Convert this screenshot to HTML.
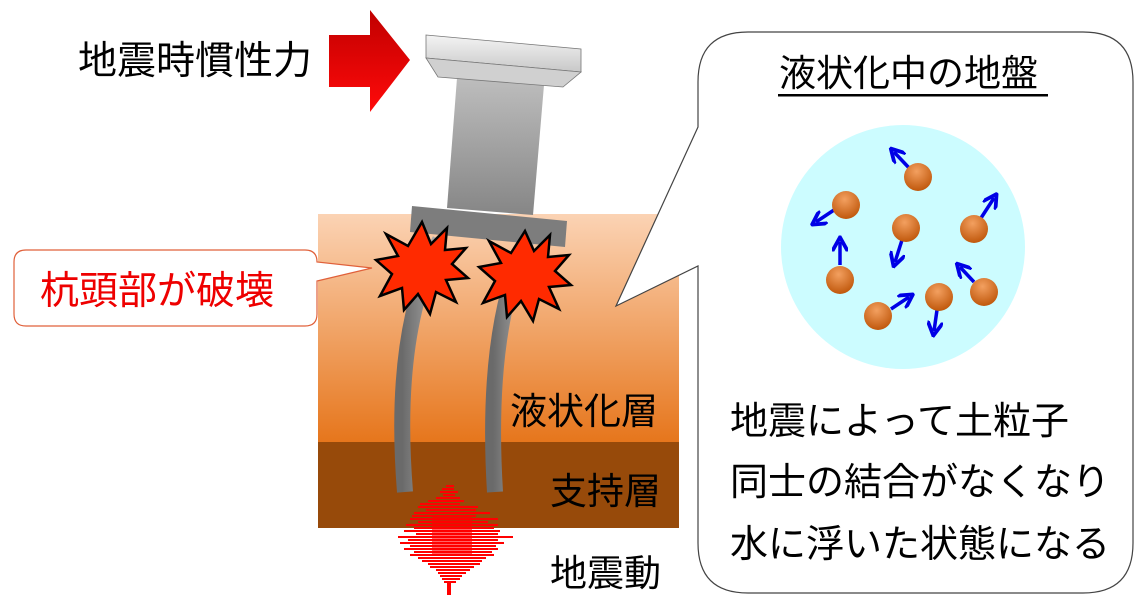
<!DOCTYPE html>
<html><head><meta charset="utf-8"><style>
html,body{margin:0;padding:0;background:#fff;}
svg{display:block;}
text{font-family:"Liberation Sans","Noto Sans CJK JP",sans-serif;}
</style></head><body>
<svg width="1141" height="603" viewBox="0 0 1141 603" xmlns="http://www.w3.org/2000/svg">
<defs>
<linearGradient id="soil" x1="0" y1="0" x2="0" y2="1"><stop offset="0" stop-color="#fbd3b4"/><stop offset="1" stop-color="#e6761c"/></linearGradient>
<linearGradient id="arr" x1="0" y1="0" x2="0" y2="1"><stop offset="0" stop-color="#c00000"/><stop offset="1" stop-color="#ff0a0a"/></linearGradient>
<linearGradient id="cap" x1="0" y1="0" x2="0" y2="1"><stop offset="0" stop-color="#f4f4f4"/><stop offset="1" stop-color="#c8c8c8"/></linearGradient>
<linearGradient id="col" x1="0" y1="0" x2="0" y2="1"><stop offset="0" stop-color="#bdbdbd"/><stop offset="1" stop-color="#868686"/></linearGradient>
<linearGradient id="pile" x1="0" y1="0" x2="1" y2="0"><stop offset="0" stop-color="#6a6a6a"/><stop offset="0.5" stop-color="#8a8a8a"/><stop offset="1" stop-color="#bbbbbb"/></linearGradient>
<radialGradient id="ball" cx="0.45" cy="0.3" r="0.7"><stop offset="0" stop-color="#f3a060"/><stop offset="1" stop-color="#c0580c"/></radialGradient>
<marker id="ah" viewBox="0 0 10 10" refX="6" refY="5" markerWidth="4.5" markerHeight="4.5" orient="auto"><path d="M0,0 L9,5 L0,10" fill="none" stroke="#0000e6" stroke-width="2.4"/></marker>
</defs>

<rect x="318" y="214" width="361" height="228" fill="url(#soil)"/>
<rect x="318" y="442" width="361" height="86" fill="#974a0a"/>

<path d="M440,240 Q392,330 405,492" fill="none" stroke="url(#pile)" stroke-width="16"/>
<path d="M527,240 Q485,330 495,492" fill="none" stroke="url(#pile)" stroke-width="16"/>

<polygon points="457,78 544,85 533,215 447,208" fill="url(#col)"/>
<polygon points="426,35 581,49 581,72 426,58" fill="url(#cap)" stroke="#777" stroke-width="0.8"/>
<polygon points="426,58 581,72 563,87 438,77" fill="#d0d0d0" stroke="#777" stroke-width="0.8"/>
<polygon points="412,206 567,221 565,247 410,232" fill="#7d7d7d"/>

<g transform="translate(422,268)">
<polygon fill="#ff2a00" stroke="#000" stroke-width="2.5" points="0,-46 9,-24 25,-40 23,-18 44,-20 30,-4 46,10 24,12 34,34 14,24 8,46 -4,26 -18,42 -20,20 -42,28 -30,6 -46,-8 -24,-12 -36,-34 -14,-22"/>
</g>
<g transform="translate(525,275)">
<polygon fill="#ff2a00" stroke="#000" stroke-width="2.5" points="0,-44 9,-24 25,-40 23,-18 44,-20 30,-4 46,10 24,12 34,34 14,24 8,46 -4,26 -18,42 -20,20 -42,28 -30,6 -46,-8 -24,-12 -36,-34 -14,-22"/>
</g>

<polygon points="329,35 370,35 370,10 410,60 370,112 370,87 329,87" fill="url(#arr)"/>
<text x="78" y="74" font-size="39" fill="#000">地震時慣性力</text>

<path d="M26,250 H305 Q317,250 317,262 L372,268 L317,281 V314 Q317,326 305,326 H26 Q14,326 14,314 V262 Q14,250 26,250 Z" fill="#fff" stroke="#e0603a" stroke-width="1.2"/>
<text x="40" y="304" font-size="39" fill="#ee0000">杭頭部が破壊</text>

<text x="510" y="424" font-size="37" fill="#000">液状化層</text>
<text x="550" y="504" font-size="37" fill="#000">支持層</text>
<text x="550" y="586" font-size="37" fill="#000">地震動</text>

<g fill="#ff0000">
<rect x="446" y="485" width="8" height="2"/>
<rect x="442" y="488" width="12" height="2"/>
<rect x="440" y="491" width="18" height="2"/>
<rect x="443" y="494" width="12" height="2"/>
<rect x="436" y="497" width="24" height="2"/>
<rect x="428" y="500" width="36" height="2"/>
<rect x="420" y="503" width="40" height="2"/>
<rect x="418" y="506" width="60" height="2"/>
<rect x="426" y="509" width="50" height="2"/>
<rect x="414" y="512" width="76" height="2"/>
<rect x="412" y="515" width="64" height="2"/>
<rect x="410" y="518" width="88" height="2"/>
<rect x="418" y="521" width="70" height="2"/>
<rect x="406" y="524" width="92" height="2"/>
<rect x="414" y="527" width="80" height="2"/>
<rect x="404" y="530" width="96" height="2"/>
<rect x="416" y="533" width="82" height="2"/>
<rect x="398" y="536" width="115" height="2"/>
<rect x="408" y="539" width="90" height="2"/>
<rect x="400" y="542" width="104" height="2"/>
<rect x="410" y="545" width="86" height="2"/>
<rect x="404" y="548" width="94" height="2"/>
<rect x="414" y="551" width="78" height="2"/>
<rect x="410" y="554" width="84" height="2"/>
<rect x="418" y="557" width="68" height="2"/>
<rect x="422" y="560" width="60" height="2"/>
<rect x="428" y="563" width="52" height="2"/>
<rect x="430" y="566" width="44" height="2"/>
<rect x="436" y="569" width="34" height="2"/>
<rect x="438" y="572" width="28" height="2"/>
<rect x="440" y="575" width="22" height="2"/>
<rect x="442" y="578" width="18" height="2"/>
<rect x="444" y="581" width="12" height="2"/>
<rect x="447" y="583" width="4" height="12"/>
<rect x="432" y="516" width="40" height="40" opacity="0.6"/>
</g>

<path d="M748,32 H1083 Q1133,32 1133,82 V543 Q1133,593 1083,593 H748 Q698,593 698,543 V266 L616,306 L698,127 V82 Q698,32 748,32 Z" fill="#fff" stroke="#444" stroke-width="1.2"/>
<text x="779" y="86" font-size="37" fill="#000">液状化中の地盤</text>
<rect x="778" y="94" width="270" height="2.5" fill="#000"/>

<circle cx="903" cy="247" r="122" fill="#ccfcff"/>
<g stroke="#0000e6" stroke-width="3.5" fill="none" marker-end="url(#ah)">
<line x1="911" y1="170" x2="894" y2="152"/>
<line x1="834" y1="210" x2="816" y2="222"/>
<line x1="902" y1="240" x2="895" y2="262"/>
<line x1="981" y1="218" x2="994" y2="198"/>
<line x1="840" y1="265" x2="840" y2="242"/>
<line x1="974" y1="282" x2="960" y2="267"/>
<line x1="937" y1="310" x2="934" y2="331"/>
<line x1="891" y1="309" x2="909" y2="297"/>
</g>
<g fill="url(#ball)">
<circle cx="918" cy="177" r="14"/>
<circle cx="846" cy="205" r="14"/>
<circle cx="906" cy="228" r="14"/>
<circle cx="974" cy="229" r="14"/>
<circle cx="840" cy="280" r="14"/>
<circle cx="984" cy="292" r="14"/>
<circle cx="939" cy="297" r="14"/>
<circle cx="878" cy="316" r="14"/>
</g>

<text x="730" y="434" font-size="38" fill="#000">地震によって土粒子</text>
<text x="730" y="495" font-size="38" fill="#000">同士の結合がなくなり</text>
<text x="730" y="557" font-size="38" fill="#000">水に浮いた状態になる</text>
</svg>
</body></html>
